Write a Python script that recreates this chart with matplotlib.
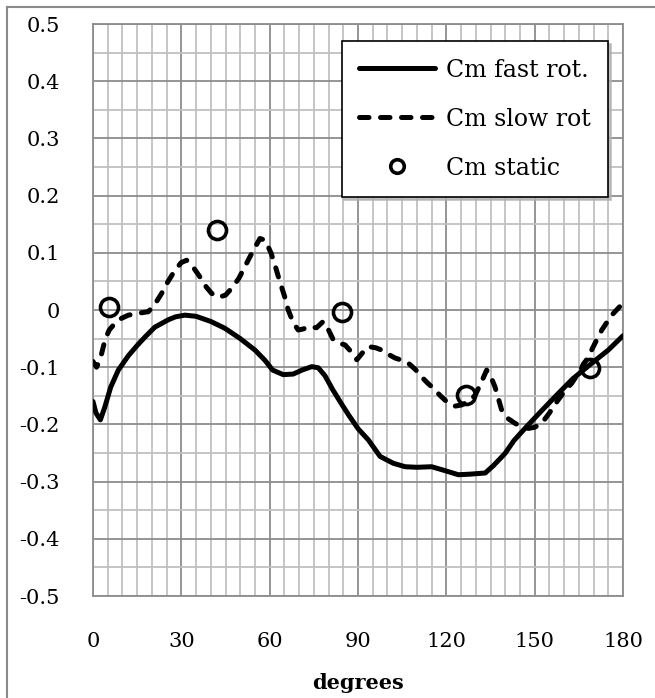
import numpy as np
import matplotlib.pyplot as plt
from matplotlib.lines import Line2D

# Cm vs rotation angle
fast_deg = [0, 1, 2.5, 4, 6, 8.6, 12, 15, 17.7, 21, 25.6, 28, 31.2, 35, 40, 44.8, 50, 55,
            58.4, 61, 64.6, 68, 71, 74.3, 76.5, 78.8, 81.5, 84.5, 87, 90.1, 93.5, 97.5,
            102, 106, 110, 115, 119, 124.1, 128, 133.2, 136, 139.9, 143, 146.7, 152,
            158, 163, 169.4, 175, 180]
fast_cm = [-0.16, -0.18, -0.192, -0.17, -0.135, -0.105, -0.08, -0.062, -0.047, -0.03,
           -0.017, -0.012, -0.009, -0.011, -0.02, -0.032, -0.05, -0.07,
           -0.088, -0.105, -0.113, -0.112, -0.105, -0.099, -0.101, -0.115, -0.14, -0.165,
           -0.185, -0.208, -0.227, -0.256, -0.268, -0.274, -0.275, -0.274, -0.28, -0.288,
           -0.287, -0.285, -0.272, -0.251, -0.228, -0.207, -0.178, -0.146, -0.12, -0.093,
           -0.07, -0.045]

slow_deg = [0, 1.2, 2.5, 4.1, 5.5, 7.5, 9.5, 12, 15, 18.8, 21, 23.3, 25.5, 27.9, 30, 31.8,
            34, 36.3, 38.5, 40.3, 42.6, 45, 47.1, 49.5, 51.6, 54, 56.7, 58.5, 60.5, 62,
            63.3, 65, 66.3, 68, 69.7, 71.5, 73.1, 75.9, 78.2, 80, 81.6, 83.5, 85.6, 87.5,
            89.6, 91.5, 93.5, 96, 98, 100.5, 102.6, 105, 107.1, 109.5, 111.6, 113.5,
            115.6, 118, 120.7, 123, 125.2, 127.5, 129.8, 132, 133.7, 135, 136.5, 138.8,
            141, 143.3, 145.5, 147.9, 150, 152.4, 155, 158, 160.5, 162.6, 165.5, 168.2,
            170.5, 172.8, 176, 180]
slow_cm = [-0.09, -0.1, -0.085, -0.052, -0.035, -0.023, -0.015, -0.009, -0.006, -0.003,
           0.01, 0.029, 0.05, 0.07, 0.083, 0.087, 0.075, 0.058, 0.04, 0.029, 0.022, 0.026,
           0.038, 0.055, 0.076, 0.1, 0.125, 0.122, 0.099, 0.075,
           0.052, 0.025, 0.0, -0.022, -0.035, -0.033, -0.029, -0.031, -0.02, -0.035,
           -0.052, -0.058, -0.061, -0.072,
           -0.087, -0.075, -0.064, -0.066, -0.07, -0.078, -0.084, -0.088, -0.093, -0.104,
           -0.117, -0.127,
           -0.137, -0.15, -0.163, -0.168, -0.166, -0.16, -0.149, -0.125, -0.105, -0.115,
           -0.134, -0.175, -0.19, -0.198, -0.204, -0.207, -0.205, -0.198, -0.18, -0.157,
           -0.14, -0.128, -0.105, -0.082, -0.058, -0.035, -0.01, 0.012]

static_deg = [5.6, 42.2, 84.4, 126.6, 168.8]
static_cm = [0.005, 0.14, -0.003, -0.148, -0.102]

plt.rcParams['font.family'] = ['DejaVu Serif']

fig = plt.figure(figsize=(6.55, 6.98), dpi=100)
ax = fig.add_axes([93/655, 1 - 596/698, 530/655, 572/698])

# chart-area border (only left and top visible in the crop)
fig.add_artist(Line2D([7/655, 7/655], [0, 1 - 7/698], transform=fig.transFigure,
                      color='#8a8a8a', lw=1.5))
fig.add_artist(Line2D([7/655, 1], [1 - 7/698, 1 - 7/698], transform=fig.transFigure,
                      color='#8a8a8a', lw=1.5))

ax.plot(fast_deg, fast_cm, color='black', lw=3.6, solid_capstyle='round',
        solid_joinstyle='round', label='Cm fast rot.', zorder=3)
ax.plot(slow_deg, slow_cm, color='black', lw=3.6, linestyle=(0, (1.9, 2.3)),
        dash_capstyle='round', dash_joinstyle='round', label='Cm slow rot', zorder=3)
ax.plot(static_deg, static_cm, 'o', ms=13, mfc='none', mec='black', mew=2.6,
        label='Cm static', zorder=4)

ax.set_xlim(0, 180)
ax.set_ylim(-0.5, 0.5)
ax.set_xticks(np.arange(0, 181, 30))
ax.set_xticks(np.arange(0, 181, 5), minor=True)
ax.set_yticks(np.arange(-0.5, 0.51, 0.1))
ax.set_yticks(np.arange(-0.5, 0.51, 0.05), minor=True)
ax.set_yticklabels(['-0.5', '-0.4', '-0.3', '-0.2', '-0.1', '0',
                    '0.1', '0.2', '0.3', '0.4', '0.5'])
ax.grid(which='minor', color='#c0c0c0', lw=1.3, zorder=0)
ax.grid(which='major', color='#8c8c8c', lw=1.3, zorder=1)
ax.set_axisbelow(True)
ax.tick_params(which='both', length=0, labelsize=15)
ax.tick_params(axis='y', pad=24)
ax.tick_params(axis='x', pad=26)
for s in ax.spines.values():
    s.set_color('#8c8c8c')
    s.set_linewidth(1.3)

ax.set_xlabel('degrees', fontsize=15, fontweight='bold', labelpad=16)

leg = ax.legend(loc='upper right', bbox_to_anchor=(608/655, 1 - 41/698),
                bbox_transform=fig.transFigure, fontsize=17, frameon=True,
                fancybox=False, shadow={'color': '#b0b0b0', 'alpha': 0.8},
                edgecolor='black', borderpad=0.75, labelspacing=1.1,
                handlelength=3.2, handletextpad=0.45, borderaxespad=0,
                markerscale=0.75)
leg.get_frame().set_linewidth(1.2)

fig.savefig('out.png', dpi=100)
